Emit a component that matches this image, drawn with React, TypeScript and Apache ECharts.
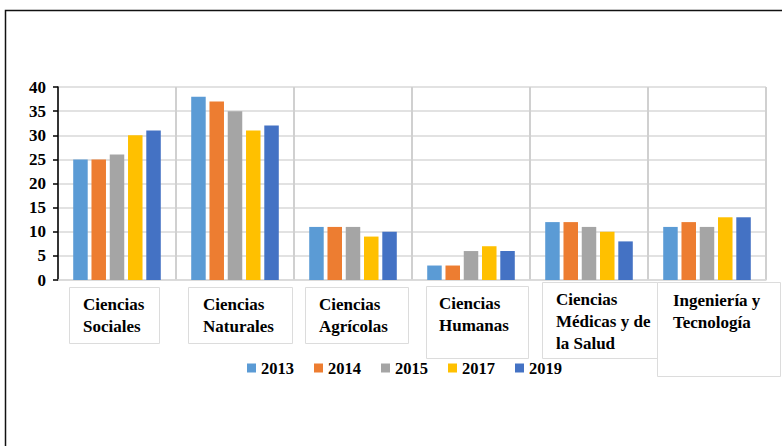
import React, { useEffect, useRef } from "react";
import * as echarts from "echarts";

const categories = [
  "Ciencias\nSociales",
  "Ciencias\nNaturales",
  "Ciencias\nAgrícolas",
  "Ciencias\nHumanas",
  "Ciencias\nMédicas y de\nla Salud",
  "Ingeniería y\nTecnología",
];
const years = ["2013", "2014", "2015", "2017", "2019"];
const values2013 = [25, 38, 11, 3, 12, 11];
const values2014 = [25, 37, 11, 3, 12, 12];
const values2015 = [26, 35, 11, 6, 11, 11];
const values2017 = [30, 31, 9, 7, 10, 13];
const values2019 = [31, 32, 10, 6, 8, 13];
const seriesValues = [values2013, values2014, values2015, values2017, values2019];
const colors = ["#5B9BD5", "#ED7D31", "#A5A5A5", "#FFC000", "#4472C4"];
const yMin = 0;
const yMax = 40;
const yInterval = 5;

// label layout (style only): text left offset from category centre, text top padding
const labelText = [
  { off: 34, pt: 6 },
  { off: 32, pt: 6 },
  { off: 34, pt: 6 },
  { off: 32, pt: 5 },
  { off: 33, pt: 1 },
  { off: 34, pt: 2 },
];
// label frame layout (style only): offsets from category centre / axis baseline, size
const labelFrames = [
  { dx: -48, dy: 7, w: 90, h: 56 },
  { dx: -47, dy: 7, w: 104, h: 56 },
  { dx: -48, dy: 7, w: 103, h: 56 },
  { dx: -45, dy: 6, w: 102, h: 72 },
  { dx: -47, dy: 2, w: 115, h: 76 },
  { dx: -50, dy: 2, w: 123, h: 94 },
];

const FONT = "Liberation Serif";

export default function App() {
  const ref = useRef<HTMLDivElement>(null);
  useEffect(() => {
    if (!ref.current) return;
    const chart = echarts.init(ref.current, undefined, { renderer: "svg" });
    const catData = categories.map((c, i) => {
      const t = labelText[i];
      return {
        value: c,
        textStyle: {
          width: t.off * 2,
          padding: [t.pt, 0, 0, 0],
        },
      };
    });
    const frame = {
      id: "frame",
      type: "rect",
      silent: true,
      z: -10,
      shape: { x: 5.5, y: 10.5, width: 820, height: 500 },
      style: { fill: "none", stroke: "#111", lineWidth: 1.5 },
    };
    chart.setOption({
      animation: false,
      backgroundColor: "#ffffff",
      textStyle: { fontFamily: FONT },
      grid: {
        left: 58,
        right: 16,
        top: 87,
        bottom: 166,
        containLabel: false,
        outerBoundsMode: "none",
      },
      legend: {
        data: years,
        left: 247,
        top: 359,
        padding: 0,
        itemWidth: 9,
        itemHeight: 9,
        itemGap: 20,
        icon: "rect",
        textStyle: {
          fontFamily: FONT,
          fontWeight: "bold",
          fontSize: 16.5,
          color: "#000",
          lineHeight: 18,
        },
      },
      xAxis: {
        type: "category",
        data: catData,
        axisLine: { show: true, lineStyle: { color: "#d9d9d9", width: 1.5 } },
        axisTick: { show: false },
        splitLine: { show: true, interval: 0, lineStyle: { color: "#d0d0d0", width: 2 } },
        axisLabel: {
          interval: 0,
          margin: 7,
          fontFamily: FONT,
          formatter: (v: string) =>
            v
              .split("\n")
              .map((l) => "{t|" + l + "}")
              .join("\n"),
          rich: {
            t: {
              fontFamily: FONT,
              fontWeight: "bold",
              fontSize: 17,
              lineHeight: 22,
              color: "#000",
              align: "left",
            },
          },
        },
      },
      yAxis: {
        type: "value",
        min: yMin,
        max: yMax,
        interval: yInterval,
        axisLine: { show: true, lineStyle: { color: "#000", width: 1.5 } },
        axisTick: { show: true, length: 5, lineStyle: { color: "#000", width: 1.5 } },
        splitLine: { show: true, lineStyle: { color: "#d9d9d9", width: 1.5 } },
        axisLabel: {
          margin: 12,
          fontFamily: FONT,
          fontWeight: "bold",
          fontSize: 17,
          color: "#000",
        },
      },
      series: years.map((y, i) => ({
        name: y,
        type: "bar",
        data: seriesValues[i],
        barWidth: 14.5,
        barGap: "26%",
        itemStyle: { color: colors[i] },
      })),
      graphic: [frame],
    });
    const baseY = chart.convertToPixel({ yAxisIndex: 0 }, yMin) as number;
    const boxes = categories.map((_, i) => {
      const cx = chart.convertToPixel({ xAxisIndex: 0 }, i) as number;
      const f = labelFrames[i];
      return {
        id: "box" + i,
        type: "rect",
        silent: true,
        z: 1,
        shape: { x: Math.round(cx + f.dx) + 0.5, y: Math.round(baseY + f.dy) + 0.5, width: f.w, height: f.h },
        style: { fill: "none", stroke: "#dcdcdc", lineWidth: 1 },
      };
    });
    chart.setOption({ graphic: [frame, ...boxes] });
    return () => chart.dispose();
  }, []);
  return (
    <div
      ref={ref}
      style={{ position: "fixed", left: 0, top: 0, width: 782, height: 446, background: "#fff" }}
    />
  );
}
